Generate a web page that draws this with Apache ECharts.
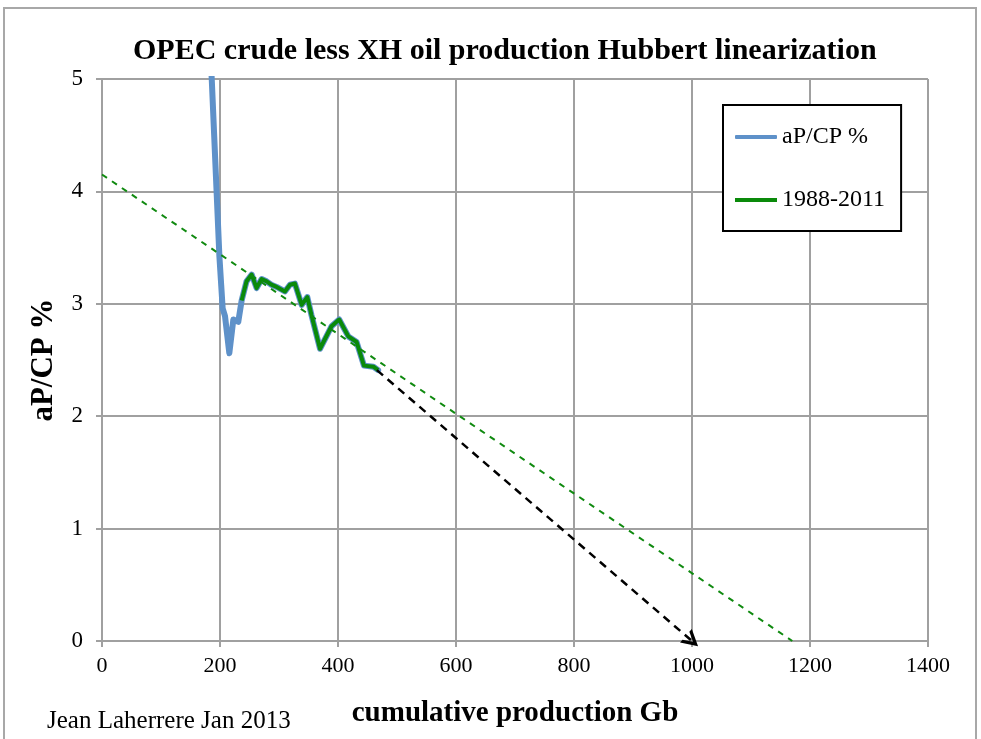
<!DOCTYPE html>
<html>
<head>
<meta charset="utf-8">
<script src="https://cdn.jsdelivr.net/npm/echarts@6/dist/echarts.min.js"></script>
<style>
  html, body { margin: 0; padding: 0; background: #fff; }
  #chart { width: 981px; height: 739px; }
</style>
</head>
<body>
<div id="chart"></div>
<script>
// aP/CP % against cumulative production (Gb)
const allX = [178, 186, 199, 204.5, 208.5, 215.8, 222.6, 231, 236.7, 245, 253.7, 262, 270.6, 279, 287, 296, 310, 318.6, 327, 338.4, 348, 355, 369.5, 389, 402, 417.5, 431.6, 444, 460, 468]
const allY = [5.9, 5.0, 3.42, 2.96, 2.89, 2.56, 2.86, 2.84, 3.03, 3.20, 3.26, 3.14, 3.22, 3.20, 3.17, 3.15, 3.11, 3.17, 3.18, 2.99, 3.06, 2.90, 2.60, 2.80, 2.86, 2.71, 2.66, 2.45, 2.44, 2.41]

// 1988-2011 part
const fitX = [236.7, 245, 253.7, 262, 270.6, 279, 287, 296, 310, 318.6, 327, 338.4, 348, 355, 369.5, 389, 402, 417.5, 431.6, 444, 460, 468]
const fitY = [3.03, 3.20, 3.26, 3.14, 3.22, 3.20, 3.17, 3.15, 3.11, 3.17, 3.18, 2.99, 3.06, 2.90, 2.60, 2.80, 2.86, 2.71, 2.66, 2.45, 2.44, 2.41]

// linear trend and forecast arrow
const trendLine = [[0, 4.15], [1170, 0]]
const arrowLine = [[466, 2.41], [1000, 0]]

const xTicks = [0, 200, 400, 600, 800, 1000, 1200, 1400]
const yTicks = [0, 1, 2, 3, 4, 5]

const serif = 'Liberation Serif'
const gridColor = '#a0a0a0'

const chart = echarts.init(document.getElementById('chart'))

chart.setOption({
  animation: false,
  title: {
    text: 'OPEC crude less XH oil production Hubbert linearization',
    left: 128,
    top: 31,
    textStyle: { fontFamily: serif, fontSize: 30, fontWeight: 'bold', color: '#000' }
  },
  graphic: [
    {
      type: 'polyline',
      shape: { points: [[4, 739], [4, 8], [976, 8], [976, 739]] },
      style: { stroke: '#a8a8a8', lineWidth: 2, fill: null }
    },
    {
      type: 'text',
      left: 47,
      top: 709,
      style: { text: 'Jean Laherrere Jan 2013', fontFamily: serif, fontSize: 25, fill: '#000' }
    }
  ],
  legend: {
    orient: 'vertical',
    left: 723,
    top: 105,
    padding: [20, 16, 19, 12],
    itemGap: 39,
    itemWidth: 42,
    itemHeight: 4,
    borderColor: '#000',
    borderWidth: 2,
    backgroundColor: '#fff',
    textStyle: { fontFamily: serif, fontSize: 24, color: '#000', padding: [6, 0, 0, 0] },
    data: [
      { name: 'aP/CP %', icon: 'roundRect' },
      { name: '1988-2011', icon: 'rect' }
    ]
  },
  grid: { left: 102, right: 53, top: 79, bottom: 98 },
  xAxis: {
    type: 'value',
    min: 0,
    max: 1400,
    interval: 200,
    name: 'cumulative production Gb',
    nameLocation: 'middle',
    nameGap: 58,
    nameTextStyle: { fontFamily: serif, fontSize: 29, fontWeight: 'bold', color: '#000' },
    axisLine: { lineStyle: { color: gridColor, width: 2 } },
    axisTick: { show: true, length: 6, inside: false, lineStyle: { color: gridColor, width: 2 } },
    axisLabel: {
      fontFamily: serif, fontSize: 22, color: '#000', margin: 14,
      formatter: v => xTicks.includes(v) ? String(v) : ''
    },
    splitLine: { show: true, lineStyle: { color: gridColor, width: 2 } }
  },
  yAxis: {
    type: 'value',
    min: 0,
    max: 5,
    interval: 1,
    name: 'aP/CP %',
    nameLocation: 'middle',
    nameGap: 43,
    nameTextStyle: { fontFamily: serif, fontSize: 31, fontWeight: 'bold', color: '#000' },
    axisLine: { show: true, lineStyle: { color: gridColor, width: 2 } },
    axisTick: { show: true, length: 6, lineStyle: { color: gridColor, width: 2 } },
    axisLabel: {
      fontFamily: serif, fontSize: 23, color: '#000', margin: 19,
      padding: [6, 0, 0, 0],
      formatter: v => yTicks.includes(v) ? String(v) : ''
    },
    splitLine: { show: true, lineStyle: { color: gridColor, width: 2 } }
  },
  series: [
    {
      name: 'aP/CP %',
      type: 'line',
      data: allX.map((x, i) => [x, allY[i]]),
      showSymbol: false,
      clip: true,
      color: '#5e91c9',
      lineStyle: { width: 6, color: '#5e91c9', cap: 'round', join: 'round' },
      z: 3,
      markLine: {
        silent: true,
        symbol: 'none',
        label: { show: false },
        lineStyle: { color: '#108a10', type: [6, 6], width: 2 },
        data: [[{ coord: trendLine[0] }, { coord: trendLine[1] }]]
      }
    },
    {
      name: '1988-2011',
      type: 'line',
      data: fitX.map((x, i) => [x, fitY[i]]),
      showSymbol: false,
      color: '#0a8a0a',
      lineStyle: { width: 4, color: '#0a8a0a', join: 'round' },
      z: 4,
      markLine: {
        silent: true,
        symbol: ['none', 'path://M0,12 L6,0 L12,12 L9.5,12 L6,5 L2.5,12 Z'],
        symbolSize: [18, 16],
        label: { show: false },
        lineStyle: { color: '#000', type: [8, 6], width: 2.5 },
        data: [[{ coord: arrowLine[0] }, { coord: arrowLine[1] }]]
      }
    }
  ]
})
</script>
</body>
</html>
